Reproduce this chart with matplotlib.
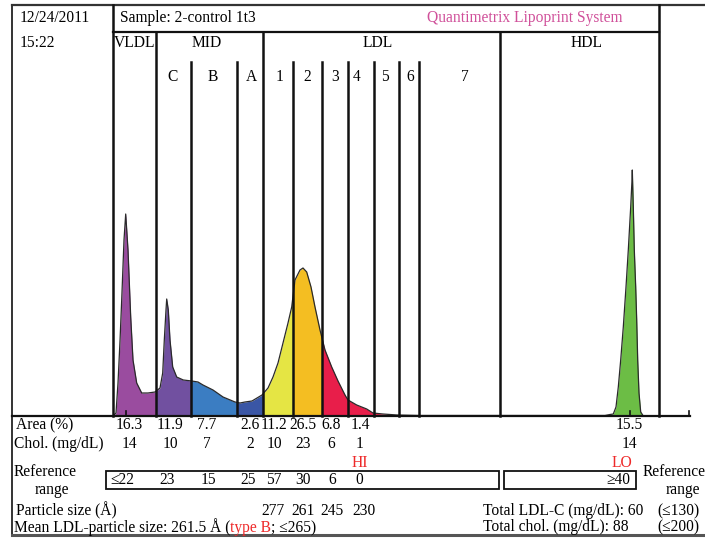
import matplotlib
matplotlib.use("Agg")
import matplotlib.pyplot as plt
from matplotlib.patches import Rectangle
import numpy as np

plt.rcParams['font.family'] = ['Liberation Serif', 'DejaVu Serif']
FS = 11.2

# densitometry scan: migration position and absorbance height
pos = [113, 116, 118, 120, 121.7, 124, 125.7, 128, 130.7, 133, 136.7, 141.7, 148, 155,
       160, 162.7, 164.3, 166, 166.7, 168.3, 170, 172.7, 176.7, 183.3, 191.7, 198, 203,
       213, 223, 235, 240, 245, 252, 257, 262, 268, 273, 278, 283, 288, 291.7, 295, 300,
       303, 306.7, 311, 315, 320, 325, 331.7, 338, 345, 348, 356.7, 366.7, 373, 383, 397,
       420, 500, 590, 605, 610, 613.3, 616, 618.3, 620.7, 623.3, 626, 628.3, 630.7, 632,
       632.3, 633.3, 634.3, 635.7, 636.7, 637.7, 639, 640.7, 643.3, 650, 690]
absorb = [0, 3, 33, 75, 116, 176, 202, 166, 99, 56, 33, 23, 23, 24,
          28, 43, 76, 106, 117, 106, 76, 49, 39, 36, 35, 34, 31,
          26, 19, 14, 13, 14, 15, 18, 21, 28, 39, 53, 73, 93, 109, 136, 146,
          148, 144, 129, 109, 86, 66, 49, 35, 21, 16, 11, 7, 3, 2, 1,
          0.5, 0.5, 0.5, 0.5, 1.5, 2, 9, 29, 56, 89, 129, 166, 209, 236,
          246, 209, 166, 129, 96, 56, 23, 4, 0, 0, 0]

# fraction boundaries along the gel
bounds = [113, 156, 190.5, 236.5, 262.5, 292.5, 322, 347.5, 374, 398.5, 418.5, 500, 659]
frac_colors = ['#9A4C9F', '#7150A0', '#3B7DC2', '#3A56A5', '#E5E544', '#F4BE22',
               '#E81E4A', '#E81E4A', '#E81E4A', '#E81E4A', '#E81E4A', '#6CBD45']
sub_labels = ['C', 'B', 'A', '1', '2', '3', '4', '5', '6', '7']
sub_label_x = [173, 213, 251, 280, 307, 335, 357, 385, 410, 465]

# table
col_x = [129, 170, 207, 250, 274, 303, 331, 360, 629]
area_pct = ['16.3', '11.9', '7.7', '2.6', '11.2', '26.5', '6.8', '1.4', '15.5']
chol = ['14', '10', '7', '2', '10', '23', '6', '1', '14']
ref_range = ['\u226422', '23', '15', '25', '57', '30', '6', '0']
ref_x = [122, 167, 208, 248, 274, 303, 332, 359]
particle_size = ['277', '261', '245', '230']
psize_x = [273, 303, 332, 364]

fig = plt.figure(figsize=(7.05, 5.39), dpi=100)

# scan panel
ax = fig.add_axes([113 / 705, (539 - 416) / 539, (690 - 113) / 705, (416 - 32) / 539])
ax.set_xlim(113, 690)
ax.set_ylim(0, 384)
ax.axis('off')
for i, c in enumerate(frac_colors):
    poly = ax.fill_between(pos, 0, absorb, color=c, lw=0)
    clip = Rectangle((bounds[i], 0), bounds[i + 1] - bounds[i], 384, transform=ax.transData)
    poly.set_clip_path(clip)
ax.plot(pos, absorb, color='#2a2a2a', lw=0.9)

# frame / layout layer in pixel space
bg = fig.add_axes([0, 0, 1, 1])
bg.set_xlim(0, 705)
bg.set_ylim(539, 0)
bg.axis('off')
bg.set_zorder(2)

K = '#111111'
bg.plot([12, 705], [5, 5], color='#333333', lw=1.6)
bg.plot([12, 12], [5, 535], color='#333333', lw=1.4)
bg.plot([12, 705], [535, 535], color='#555555', lw=2.2)
bg.plot([113, 659], [32, 32], color=K, lw=1.6)
bg.plot([12, 690], [416, 416], color=K, lw=1.6)
bg.plot([113, 113], [5, 416], color=K, lw=1.8)
bg.plot([659, 659], [5, 416], color=K, lw=1.8)
for xb in [156, 262.5, 500]:
    bg.plot([xb, xb], [32, 416], color=K, lw=1.8)
for xb in [190.5, 236.5, 292.5, 322, 347.5, 374, 398.5, 418.5]:
    bg.plot([xb, xb], [62, 416], color=K, lw=1.8)
for xt in [126, 630, 689]:
    bg.plot([xt, xt], [411, 416], color=K, lw=1.2)

# header
bg.text(20, 18, '12/24/2011', fontsize=FS, va='center')
bg.text(20, 43, '15:22', fontsize=FS, va='center')
bg.text(120, 18, 'Sample: 2-control 1t3', fontsize=FS, va='center')
bg.text(525, 18, 'Quantimetrix Lipoprint System', fontsize=FS, va='center', ha='center',
        color='#D0509A')
bg.text(135, 43, 'VLDL', fontsize=FS, va='center', ha='center')
bg.text(207, 43, 'MID', fontsize=FS, va='center', ha='center')
bg.text(378, 43, 'LDL', fontsize=FS, va='center', ha='center')
bg.text(587, 43, 'HDL', fontsize=FS, va='center', ha='center')
for lab, xl in zip(sub_labels, sub_label_x):
    bg.text(xl, 77, lab, fontsize=FS, va='center', ha='center')

# table rows
bg.text(16, 425, 'Area (%)', fontsize=FS, va='center')
bg.text(14, 444, 'Chol. (mg/dL)', fontsize=FS, va='center')
for a, c, xc in zip(area_pct, chol, col_x):
    bg.text(xc, 425, a, fontsize=FS, va='center', ha='center')
    bg.text(xc, 444, c, fontsize=FS, va='center', ha='center')
bg.text(360, 463, 'HI', fontsize=FS, va='center', ha='center', color='#EE2A2A')
bg.text(622, 463, 'LO', fontsize=FS, va='center', ha='center', color='#EE2A2A')

bg.text(45, 472, 'Reference', fontsize=FS, va='center', ha='center')
bg.text(52, 490, 'range', fontsize=FS, va='center', ha='center')
bg.add_patch(Rectangle((106, 471), 393, 18, fill=False, ec=K, lw=1.3))
bg.add_patch(Rectangle((504, 471), 132, 18, fill=False, ec=K, lw=1.3))
for r, xr in zip(ref_range, ref_x):
    bg.text(xr, 480, r, fontsize=FS, va='center', ha='center')
bg.text(630, 480, '\u226540', fontsize=FS, va='center', ha='right')
bg.text(643, 472, 'Reference', fontsize=FS, va='center')
bg.text(683, 490, 'range', fontsize=FS, va='center', ha='center')

bg.text(16, 511, 'Particle size (\u00c5)', fontsize=FS, va='center')
for p, xp in zip(particle_size, psize_x):
    bg.text(xp, 511, p, fontsize=FS, va='center', ha='center')
t = bg.text(14, 527, 'Mean LDL-particle size: 261.5 \u00c5 (', fontsize=FS, va='center')
t2 = bg.annotate('type B', xycoords=t, xy=(1, 0), va='bottom', fontsize=FS, color='#EE2A2A')
bg.annotate('; \u2264265)', xycoords=t2, xy=(1, 0), va='bottom', fontsize=FS)

bg.text(483, 511, 'Total LDL-C (mg/dL): 60', fontsize=FS, va='center')
bg.text(483, 527, 'Total chol. (mg/dL): 88', fontsize=FS, va='center')
bg.text(657, 511, '(\u2264130)', fontsize=FS, va='center')
bg.text(657, 527, '(\u2264200)', fontsize=FS, va='center')

fig.savefig('out.png', dpi=100)
